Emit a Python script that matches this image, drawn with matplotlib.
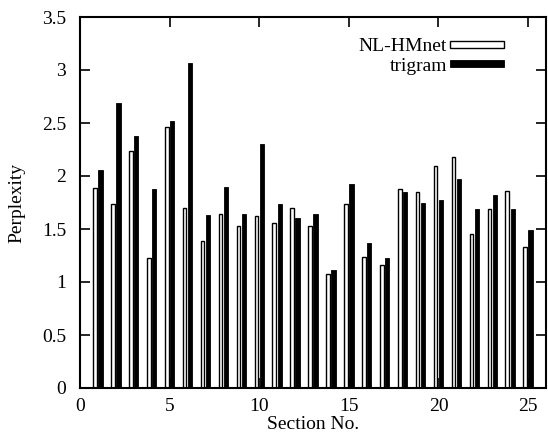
import matplotlib
matplotlib.use('Agg')
import matplotlib.pyplot as plt
import numpy as np

plt.rcParams['font.family'] = 'Liberation Serif'
plt.rcParams['font.size'] = 14

sections = np.arange(1, 26)
nl_hmnet = [1.89, 1.74, 2.24, 1.23, 2.46, 1.70, 1.39, 1.64, 1.53, 1.62,
            1.56, 1.70, 1.53, 1.08, 1.74, 1.24, 1.16, 1.88, 1.85, 2.09,
            2.18, 1.45, 1.69, 1.86, 1.33]
trigram = [2.06, 2.69, 2.38, 1.88, 2.52, 3.07, 1.63, 1.90, 1.64, 2.30,
           1.74, 1.60, 1.64, 1.11, 1.92, 1.37, 1.23, 1.85, 1.75, 1.77,
           1.97, 1.69, 1.82, 1.69, 1.49]

fig = plt.figure(figsize=(5.48, 4.37), dpi=100)
ax = fig.add_axes([80 / 548, 1 - 388 / 437, 466 / 548, 371 / 437])

ax.bar(sections - 0.16, nl_hmnet, width=0.2, facecolor='white',
       edgecolor='black', linewidth=1.0, label='NL-HMnet')
ax.bar(sections + 0.14, trigram, width=0.24, facecolor='black',
       edgecolor='black', linewidth=0.6, label='trigram')

ax.set_xlim(0, 26)
ax.set_ylim(0, 3.5)
ax.set_xticks([0, 5, 10, 15, 20, 25])
ax.set_yticks(np.arange(0, 3.51, 0.5))
ax.set_yticklabels(['0', '0.5', '1', '1.5', '2', '2.5', '3', '3.5'])
ax.tick_params(direction='in', length=7, width=1.2, top=True, right=True,
               labelsize=14)
ax.tick_params(axis='x', pad=7)
ax.tick_params(axis='y', pad=10)
for s in ax.spines.values():
    s.set_linewidth(1.5)

ax.set_xlabel('Section No.', fontsize=14, labelpad=1)
ax.set_ylabel('Perplexity', fontsize=14, labelpad=12)

ax.legend(loc='upper right', bbox_to_anchor=(0.948, 0.99), frameon=False,
          markerfirst=False, handlelength=2.8, handleheight=0.2,
          labelspacing=0.12, handletextpad=0.15, fontsize=14)

fig.savefig('out.png', dpi=100)
